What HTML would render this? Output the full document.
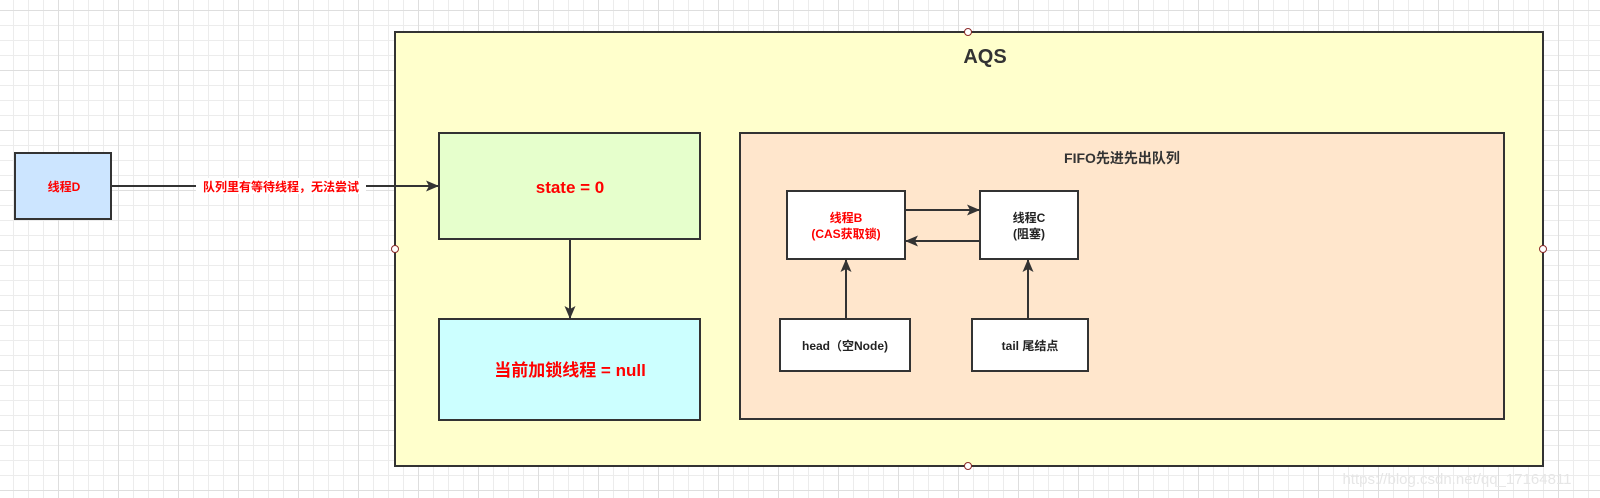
<!DOCTYPE html>
<html><head><meta charset="utf-8"><style>
body{margin:0;width:1600px;height:498px;overflow:hidden;background:#fff;
background-image:linear-gradient(#dedede 1px,transparent 1px),linear-gradient(90deg,#dedede 1px,transparent 1px),linear-gradient(#ececec 1px,transparent 1px),linear-gradient(90deg,#ececec 1px,transparent 1px);
background-size:60px 60px,60px 60px,15px 15px,15px 15px;background-position:-2px 10px;}
svg{position:absolute;left:0;top:0}
text{font-family:"Liberation Sans","Noto Sans CJK SC",sans-serif;font-weight:bold;text-anchor:middle}
</style></head><body>
<svg width="1600" height="498" viewBox="0 0 1600 498">
<defs><marker id="a" markerWidth="13" markerHeight="11" refX="12" refY="5.5" orient="auto" markerUnits="userSpaceOnUse"><path d="M0,0 L13,5.5 L0,11 L3,5.5 Z" fill="#333"/></marker></defs>
<rect x="395" y="32" width="1148" height="434" fill="#ffffcc" stroke="#333" stroke-width="2"/>
<text x="985" y="63" font-size="20" fill="#333">AQS</text>
<rect x="439" y="133" width="261" height="106" fill="#e6ffcc" stroke="#333" stroke-width="2"/>
<text x="570" y="193" font-size="17" fill="#ff0000">state = 0</text>
<rect x="439" y="319" width="261" height="101" fill="#ccffff" stroke="#333" stroke-width="2"/>
<text x="570" y="376" font-size="17" fill="#ff0000">当前加锁线程 = null</text>
<line x1="570" y1="239" x2="570" y2="318" stroke="#333" stroke-width="2" marker-end="url(#a)"/>
<rect x="740" y="133" width="764" height="286" fill="#ffe6cc" stroke="#333" stroke-width="2"/>
<text x="1122" y="163" font-size="14" fill="#333">FIFO先进先出队列</text>
<rect x="787" y="191" width="118" height="68" fill="#fff" stroke="#333" stroke-width="2"/>
<text x="846" y="222" font-size="12" fill="#ff0000">线程B</text>
<text x="846" y="238" font-size="12" fill="#ff0000">(CAS获取锁)</text>
<rect x="980" y="191" width="98" height="68" fill="#fff" stroke="#333" stroke-width="2"/>
<text x="1029" y="222" font-size="12" fill="#222">线程C</text>
<text x="1029" y="238" font-size="12" fill="#222">(阻塞)</text>
<rect x="780" y="319" width="130" height="52" fill="#fff" stroke="#333" stroke-width="2"/>
<text x="845" y="350" font-size="12" fill="#222">head（空Node)</text>
<rect x="972" y="319" width="116" height="52" fill="#fff" stroke="#333" stroke-width="2"/>
<text x="1030" y="350" font-size="12" fill="#222">tail 尾结点</text>
<line x1="905" y1="210" x2="979" y2="210" stroke="#333" stroke-width="2" marker-end="url(#a)"/>
<line x1="980" y1="241" x2="906" y2="241" stroke="#333" stroke-width="2" marker-end="url(#a)"/>
<line x1="846" y1="319" x2="846" y2="260" stroke="#333" stroke-width="2" marker-end="url(#a)"/>
<line x1="1028" y1="319" x2="1028" y2="260" stroke="#333" stroke-width="2" marker-end="url(#a)"/>
<rect x="15" y="153" width="96" height="66" fill="#cce5ff" stroke="#333" stroke-width="2"/>
<text x="64" y="191" font-size="12" fill="#ff0000">线程D</text>
<line x1="111" y1="186" x2="438" y2="186" stroke="#333" stroke-width="2" marker-end="url(#a)"/>
<rect x="196" y="178" width="170" height="16" fill="#fff"/>
<text x="281" y="191" font-size="12" fill="#ff0000">队列里有等待线程，无法尝试</text>
<g fill="#fff" stroke="#8b2a2a" stroke-width="1"><circle cx="968" cy="32" r="3.5"/><circle cx="968" cy="466" r="3.5"/><circle cx="395" cy="249" r="3.5"/><circle cx="1543" cy="249" r="3.5"/></g>
<text x="1457" y="484" font-size="15" fill="#e6e6e6" style="font-weight:normal">https://blog.csdn.net/qq_17164811</text>
</svg>
</body></html>
